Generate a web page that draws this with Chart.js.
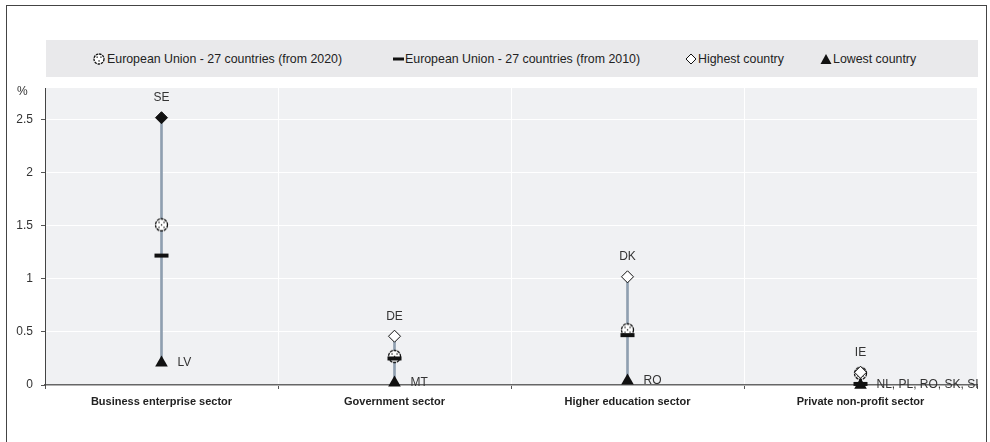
<!DOCTYPE html>
<html>
<head>
<meta charset="utf-8">
<script src="https://cdn.jsdelivr.net/npm/chart.js@4/dist/chart.umd.min.js"></script>
<style>
  html, body { margin:0; padding:0; background:#fff; }
  body { width:990px; height:442px; position:relative; overflow:hidden;
         font-family:'Liberation Sans Narrow','Arial Narrow','Liberation Sans',Arial,sans-serif; }
  #frame { position:absolute; left:6px; top:5px; width:981px; height:460px; border:1px solid #444; box-sizing:border-box; }
  #legend { position:absolute; left:46px; top:40px; width:932px; height:37px; background:#e9e9eb; }
  .li { position:absolute; top:0; height:37px; line-height:37px; font-size:13.5px; color:#222; white-space:nowrap;
        transform:scaleX(0.916); transform-origin:0 50%; }
  .mk { position:absolute; top:12px; }
  #c { position:absolute; left:0; top:0; }
</style>
</head>
<body>
<div id="frame"></div>
<div id="legend"></div>
<canvas id="c" width="990" height="442"></canvas>
<script>
// ---- data ----
const categories = ['Business enterprise sector', 'Government sector', 'Higher education sector', 'Private non-profit sector'];
const eu2020 = [1.51, 0.27, 0.52, 0.11];
const eu2010 = [1.22, 0.25, 0.47, 0.01];
const highest = [2.52, 0.46, 1.02, 0.12];
const lowest = [0.21, 0.02, 0.04, 0.0];
const highestLabels = ['SE', 'DE', 'DK', 'IE'];
const lowestLabels = ['LV', 'MT', 'RO', 'NL, PL, RO, SK, SI'];
const yTicks = [0, 0.5, 1, 1.5, 2, 2.5];
const seriesNames = ['European Union - 27 countries (from 2020)', 'European Union - 27 countries (from 2010)', 'Highest country', 'Lowest country'];

const FONT = "'Liberation Sans Narrow','Arial Narrow','Liberation Sans',Arial,sans-serif";

// EU2020 marker image
function makeDotCircle() {
  const cv = document.createElement('canvas');
  cv.width = 15; cv.height = 15;
  const g = cv.getContext('2d');
  g.beginPath(); g.arc(7.5, 7.5, 6, 0, Math.PI * 2);
  g.fillStyle = '#fff'; g.fill();
  g.lineWidth = 1.3; g.strokeStyle = '#111'; g.setLineDash([3, 0.8]); g.stroke();
  g.setLineDash([]);
  g.fillStyle = '#111';
  [[5, 5], [10, 5], [7.5, 7.5], [5, 10], [10, 10]].forEach(p => { g.fillRect(p[0] - 0.6, p[1] - 0.6, 1.3, 1.3); });
  return cv;
}
const dotCircle = makeDotCircle();

// ---- legend (HTML text) ----
const legendEl = document.getElementById('legend');
const legendItems = [
  { mx: 99, tx: 107, svg: '<svg width="14" height="14"><circle cx="7" cy="7" r="5" fill="#fff" stroke="#111" stroke-width="1.3" stroke-dasharray="2.5 0.8"/><rect x="4.5" y="4.5" width="1.3" height="1.3" fill="#111"/><rect x="8.3" y="4.5" width="1.3" height="1.3" fill="#111"/><rect x="6.4" y="8.3" width="1.3" height="1.3" fill="#111"/></svg>' },
  { mx: 399, tx: 405, svg: '<svg width="14" height="14"><rect x="1" y="5.5" width="11" height="3" fill="#111"/></svg>' },
  { mx: 691, tx: 698, svg: '<svg width="14" height="14"><polygon points="7,2 12,7 7,12 2,7" fill="#fff" stroke="#111" stroke-width="1"/></svg>' },
  { mx: 826, tx: 833, svg: '<svg width="14" height="14"><polygon points="7,2 12.5,12 1.5,12" fill="#111"/></svg>' }
];
legendItems.forEach((it, i) => {
  const m = document.createElement('div');
  m.className = 'mk'; m.style.left = (it.mx - 46 - 7) + 'px'; m.innerHTML = it.svg;
  legendEl.appendChild(m);
  const t = document.createElement('div');
  t.className = 'li'; t.style.left = (it.tx - 46) + 'px'; t.textContent = seriesNames[i];
  legendEl.appendChild(t);
});

// ---- plugins ----
const bgPlugin = {
  id: 'bg',
  beforeDraw(chart) {
    const { ctx, chartArea: a } = chart;
    ctx.save(); ctx.fillStyle = '#f0f1f3';
    ctx.fillRect(a.left, a.top, a.right - a.left, a.bottom - a.top);
    ctx.restore();
  }
};
const labelPlugin = {
  id: 'labels',
  afterDatasetsDraw(chart) {
    const { ctx } = chart;
    const xs = chart.scales.x, ys = chart.scales.y;
    ctx.save();
    ctx.font = '12px ' + FONT; ctx.fillStyle = '#333';
    categories.forEach((c, i) => {
      const x = xs.getPixelForValue(i);
      ctx.textAlign = 'center'; ctx.textBaseline = 'middle';
      ctx.fillText(highestLabels[i], x, ys.getPixelForValue(highest[i]) - 20);
      ctx.textAlign = 'left';
      ctx.fillText(lowestLabels[i], x + 16, ys.getPixelForValue(lowest[i]));
    });
    ctx.textAlign = 'left'; ctx.textBaseline = 'middle';
    ctx.fillText('%', 17, 92);
    ctx.restore();
  }
};

new Chart(document.getElementById('c'), {
  data: {
    labels: categories,
    datasets: [
      { type: 'bar', label: 'range', data: categories.map((c, i) => [lowest[i], highest[i]]),
        backgroundColor: '#8f9fb0', barThickness: 2, order: 10 },
      { type: 'line', label: seriesNames[0], data: eu2020, showLine: false, pointStyle: dotCircle,
        pointRadius: 6, order: 4, clip: false },
      { type: 'line', label: seriesNames[1], data: eu2010, showLine: false, pointStyle: 'line',
        pointRadius: 7, pointBorderWidth: 4, borderColor: '#111', pointBorderColor: '#111', order: 3, clip: false },
      { type: 'line', label: seriesNames[2], data: highest, showLine: false, pointStyle: 'rectRot',
        pointRadius: 6, pointBackgroundColor: ['#111', '#fff', '#fff', '#fff'], pointBorderColor: '#111',
        pointBorderWidth: 1, order: 2, clip: false },
      { type: 'line', label: seriesNames[3], data: lowest, showLine: false, pointStyle: 'triangle',
        pointRadius: 7.3, pointBackgroundColor: '#111', pointBorderColor: '#111', pointBorderWidth: 0, order: 1, clip: false }
    ]
  },
  options: {
    responsive: false,
    devicePixelRatio: 1,
    animation: false,
    events: [],
    layout: { padding: { top: 88, right: 13, left: 0, bottom: 0 } },
    plugins: { legend: { display: false }, tooltip: { enabled: false } },
    scales: {
      x: {
        type: 'category',
        offset: true,
        grid: { color: '#ffffff', lineWidth: 1, offset: true, tickLength: 4, tickColor: '#555' },
        border: { color: '#666', width: 1.5 },
        ticks: { font: { family: FONT, size: 11, weight: 'bold' }, color: '#222', padding: 6, maxRotation: 0 },
        afterFit(s) { s.height = 57; }
      },
      y: {
        min: 0, max: 2.8,
        afterBuildTicks(s) { s.ticks = yTicks.map(v => ({ value: v })); },
        grid: { color: '#ffffff', lineWidth: 1, tickLength: 4, tickColor: '#555' },
        border: { color: '#444', width: 1 },
        ticks: { font: { family: FONT, size: 12 }, color: '#333', padding: 8, callback: v => String(v) },
        afterFit(s) { s.width = 45; }
      }
    }
  },
  plugins: [bgPlugin, labelPlugin]
});
</script>
</body>
</html>
